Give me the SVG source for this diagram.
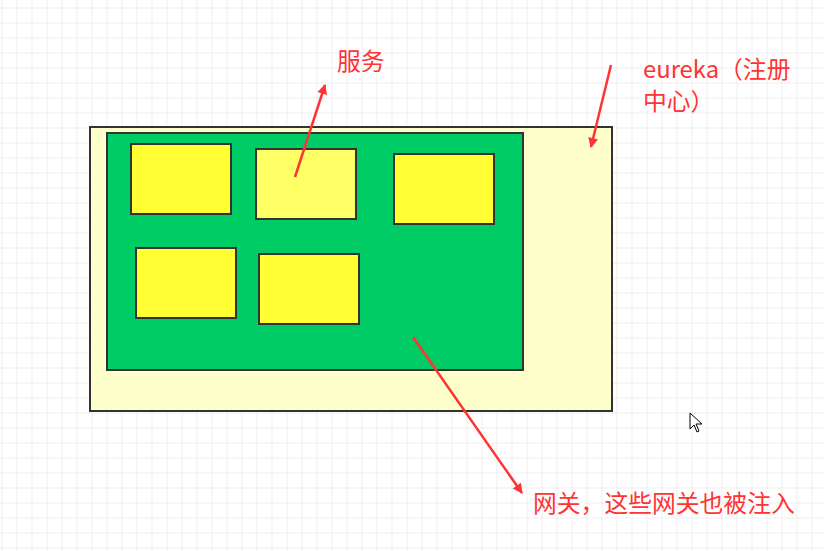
<svg xmlns="http://www.w3.org/2000/svg" width="824" height="551" viewBox="0 0 824 551">
<style>
.box{stroke:#333;stroke-width:2}
.y{fill:#FFFF33}
.lbl{fill:#FF3333;font-family:"Noto Sans CJK SC","Liberation Sans",sans-serif;font-size:23.8px}
.arr{stroke:#FF3333;stroke-width:2.5;fill:none;marker-end:url(#ah)}
</style>
<defs>
<pattern id="grid" x="1.5" y="7.5" width="15" height="15" patternUnits="userSpaceOnUse">
<path d="M0 0H15M0 0V15" stroke="#dedede" stroke-width="1" fill="none"/>
</pattern>
<marker id="ah" viewBox="0 0 10 10" refX="9" refY="5" markerWidth="5" markerHeight="4" orient="auto" markerUnits="strokeWidth">
<path d="M0 0L10 5L0 10z" fill="#FF3333"/>
</marker>
</defs>
<rect width="824" height="551" fill="#fff"/>
<rect width="824" height="551" fill="url(#grid)"/>
<g id="eureka"><rect class="box" x="90" y="127" width="522" height="284" fill="#FFFFCC"/></g>
<g id="gateway"><rect class="box" x="107" y="133" width="416" height="237" fill="#00CC66"/></g>
<g id="s1"><rect class="box y" x="131" y="144" width="100" height="70"/></g>
<g id="s2"><rect class="box" x="256" y="149" width="100" height="70" fill="#FFFF66"/></g>
<g id="s3"><rect class="box y" x="394" y="154" width="100" height="70"/></g>
<g id="s4"><rect class="box y" x="136" y="248" width="100" height="70"/></g>
<g id="s5"><rect class="box y" x="259" y="254" width="100" height="70"/></g>
<g id="connectors">
<line class="arr" x1="295" y1="177" x2="325" y2="85"/>
<line class="arr" x1="611" y1="65" x2="591" y2="147"/>
<line class="arr" x1="413" y1="337" x2="522" y2="493" stroke-width="2.2"/>
</g>
<text class="lbl" x="337" y="70">服务</text>
<text class="lbl" x="643" y="78">eureka（注册</text>
<text class="lbl" x="643" y="110">中心）</text>
<text class="lbl" x="533" y="512">网关，这些网关也被注入</text>
<path d="M690 413V429L694 425L697 432L699 431L696 424L702 424Z" fill="#fff" stroke="#000" stroke-width="1"/>
</svg>
